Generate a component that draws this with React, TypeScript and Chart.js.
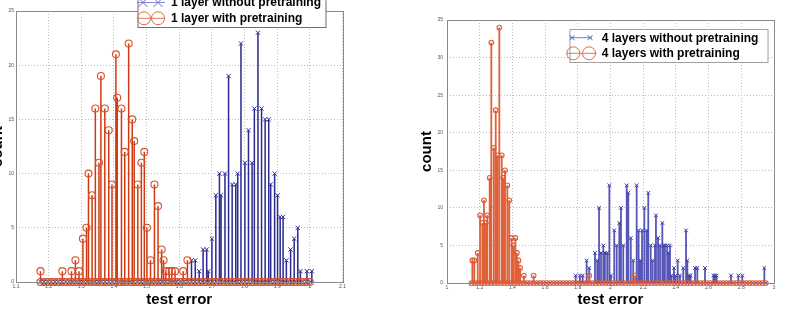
import React, { useEffect, useRef } from "react";
import { Chart, registerables } from "chart.js";
Chart.register(...registerables);

// ---------- DATA ----------
// Left panel: 1 layer
const leftLabels = ["1 layer without pretraining", "1 layer with pretraining"];
const leftBlueX = [1.6375, 1.649, 1.661, 1.673, 1.684, 1.689, 1.7, 1.712, 1.723, 1.728, 1.74, 1.751, 1.762, 1.773, 1.779, 1.789, 1.801, 1.812, 1.823, 1.83, 1.841, 1.852, 1.863, 1.874, 1.88, 1.892, 1.901, 1.909, 1.918, 1.928, 1.941, 1.952, 1.963, 1.971, 1.991, 2.006];
const leftBlueY = [2, 2, 1, 3, 3, 1, 4, 8, 10, 8, 10, 19, 9, 9, 10, 22, 11, 14, 11, 16, 23, 16, 15, 15, 9, 10, 8, 6, 6, 2, 3, 4, 5, 1, 1, 1];
const leftRedX = [1.175, 1.242, 1.27, 1.282, 1.293, 1.305, 1.316, 1.322, 1.333, 1.343, 1.354, 1.36, 1.372, 1.384, 1.394, 1.406, 1.41, 1.423, 1.433, 1.445, 1.456, 1.462, 1.473, 1.484, 1.493, 1.501, 1.512, 1.524, 1.535, 1.546, 1.552, 1.559, 1.569, 1.577, 1.587, 1.612, 1.625];
const leftRedY = [1, 1, 1, 2, 1, 4, 5, 10, 8, 16, 11, 19, 16, 14, 9, 21, 17, 16, 12, 22, 15, 13, 9, 11, 12, 5, 2, 9, 7, 3, 2, 1, 1, 1, 1, 1, 2];
const leftZeroX = [1.175, 1.186, 1.197, 1.208, 1.219, 1.23, 1.241, 1.252, 1.263, 1.274, 1.285, 1.296, 1.307, 1.318, 1.329, 1.34, 1.351, 1.362, 1.373, 1.384, 1.395, 1.406, 1.417, 1.428, 1.439, 1.45, 1.461, 1.472, 1.483, 1.494, 1.505, 1.516, 1.527, 1.538, 1.549, 1.56, 1.571, 1.582, 1.593, 1.604, 1.615, 1.626, 1.637, 1.648, 1.659, 1.67, 1.681, 1.692, 1.703, 1.714, 1.725, 1.736, 1.747, 1.758, 1.769, 1.78, 1.791, 1.802, 1.813, 1.824, 1.835, 1.846, 1.857, 1.868, 1.879, 1.89, 1.901, 1.912, 1.923, 1.934, 1.945, 1.956, 1.967, 1.978, 1.989, 2.0];
const leftXTicks = [1.1, 1.2, 1.3, 1.4, 1.5, 1.6, 1.7, 1.8, 1.9, 2, 2.1];
const leftYTicks = [0, 5, 10, 15, 20, 25];

// Right panel: 4 layers
const rightLabels = ["4 layers without pretraining", "4 layers with pretraining"];
const rightBlueX = [1.787, 1.813, 1.83, 1.854, 1.87, 1.905, 1.919, 1.93, 1.942, 1.956, 1.966, 1.98, 1.993, 2.003, 2.023, 2.038, 2.054, 2.064, 2.078, 2.099, 2.109, 2.124, 2.139, 2.16, 2.172, 2.182, 2.193, 2.207, 2.221, 2.231, 2.246, 2.258, 2.272, 2.278, 2.291, 2.303, 2.317, 2.325, 2.333, 2.347, 2.353, 2.364, 2.374, 2.388, 2.398, 2.411, 2.425, 2.445, 2.462, 2.47, 2.48, 2.49, 2.517, 2.531, 2.578, 2.629, 2.639, 2.649, 2.737, 2.782, 2.806, 2.941];
const rightBlueY = [1, 1, 1, 3, 2, 4, 3, 10, 4, 5, 4, 4, 13, 1, 7, 5, 8, 10, 5, 13, 12, 6, 3, 13, 7, 3, 7, 10, 7, 12, 5, 3, 5, 9, 6, 5, 8, 5, 5, 5, 4, 5, 1, 2, 1, 3, 1, 2, 7, 3, 1, 1, 2, 2, 2, 1, 1, 1, 1, 1, 1, 2];
const rightRedX = [1.155, 1.167, 1.188, 1.202, 1.216, 1.226, 1.237, 1.246, 1.261, 1.271, 1.286, 1.298, 1.308, 1.32, 1.335, 1.344, 1.355, 1.369, 1.381, 1.396, 1.406, 1.418, 1.427, 1.437, 1.447, 1.47, 1.53, 1.87, 2.15];
const rightRedY = [3, 3, 4, 9, 8, 11, 8, 9, 14, 32, 18, 23, 17, 34, 17, 14, 15, 13, 11, 6, 5, 6, 4, 3, 2, 1, 1, 1, 1];
const rightZeroX = [1.15, 1.17, 1.19, 1.21, 1.23, 1.25, 1.27, 1.29, 1.31, 1.33, 1.35, 1.37, 1.39, 1.41, 1.43, 1.45, 1.47, 1.49, 1.51, 1.53, 1.55, 1.57, 1.59, 1.61, 1.63, 1.65, 1.67, 1.69, 1.71, 1.73, 1.75, 1.77, 1.79, 1.81, 1.83, 1.85, 1.87, 1.89, 1.91, 1.93, 1.95, 1.97, 1.99, 2.01, 2.03, 2.05, 2.07, 2.09, 2.11, 2.13, 2.15, 2.17, 2.19, 2.21, 2.23, 2.25, 2.27, 2.29, 2.31, 2.33, 2.35, 2.37, 2.39, 2.41, 2.43, 2.45, 2.47, 2.49, 2.51, 2.53, 2.55, 2.57, 2.59, 2.61, 2.63, 2.65, 2.67, 2.69, 2.71, 2.73, 2.75, 2.77, 2.79, 2.81, 2.83, 2.85, 2.87, 2.89, 2.91, 2.93, 2.95];
const rightXTicks = [1, 1.2, 1.4, 1.6, 1.8, 2, 2.2, 2.4, 2.6, 2.8, 3];
const rightYTicks = [0, 5, 10, 15, 20, 25, 30, 35];

const xTitle = "test error";
const yTitle = "count";

// ---------- HELPERS ----------
const FONT = "'Liberation Sans', Arial, Helvetica, sans-serif";

function stemData(xs: number[], ys: number[]) {
  const out: any[] = [];
  xs.forEach((x, i) => {
    out.push({ x, y: 0 }, { x, y: ys[i] }, { x, y: null });
  });
  return out;
}
function markerData(xs: number[], ys: number[], zeros: number[]) {
  const pts: any[] = zeros.map((x) => ({ x, y: 0 }));
  xs.forEach((x, i) => pts.push({ x, y: ys[i] }));
  return pts;
}

function drawMarker(ctx: CanvasRenderingContext2D, kind: string, x: number, y: number, r: number) {
  ctx.beginPath();
  if (kind === "circle") {
    ctx.arc(x, y, r, 0, Math.PI * 2);
  } else {
    ctx.moveTo(x - r, y - r);
    ctx.lineTo(x + r, y + r);
    ctx.moveTo(x + r, y - r);
    ctx.lineTo(x - r, y + r);
  }
  ctx.stroke();
}

const boxLegend = {
  id: "boxLegend",
  afterDraw(chart: any, _args: any, opts: any) {
    const ctx: CanvasRenderingContext2D = chart.ctx;
    const { box, rows, textX } = opts;
    if (!box) return;
    ctx.save();
    ctx.fillStyle = "#ffffff";
    ctx.fillRect(box.x, box.y, box.w, box.h);
    ctx.strokeStyle = box.color;
    ctx.lineWidth = 1;
    ctx.strokeRect(box.x, box.y, box.w, box.h);
    rows.forEach((r: any) => {
      const ds = chart.data.datasets[r.datasetIndex];
      ctx.strokeStyle = r.lineColor;
      ctx.lineWidth = 1;
      ctx.beginPath();
      ctx.moveTo(r.x1, r.y);
      ctx.lineTo(r.x2, r.y);
      ctx.stroke();
      ctx.strokeStyle = r.markerColor;
      r.markers.forEach((mx: number) => drawMarker(ctx, r.kind, mx, r.y, r.size));
      ctx.fillStyle = "#000000";
      ctx.font = `bold 12px ${FONT}`;
      ctx.textBaseline = "middle";
      ctx.textAlign = "left";
      ctx.fillText(ds.label, textX, r.y + 0.5);
    });
    ctx.restore();
  },
};

const frame = {
  id: "frame",
  afterDatasetsDraw(chart: any) {
    const { ctx, chartArea } = chart;
    ctx.save();
    ctx.strokeStyle = "#8a8a8a";
    ctx.lineWidth = 1;
    ctx.strokeRect(Math.round(chartArea.left) + 0.5, Math.round(chartArea.top) + 0.5, Math.round(chartArea.right - chartArea.left), Math.round(chartArea.bottom - chartArea.top));
    ctx.restore();
  },
};

function makeConfig(p: any) {
  return {
    type: "scatter",
    data: {
      datasets: [
        {
          label: p.labels[0],
          type: "line",
          data: stemData(p.blueX, p.blueY),
          borderColor: p.blueStem,
          borderWidth: p.stemW,
          pointRadius: 0,
          spanGaps: false,
          clip: false,
          order: 4,
        },
        {
          label: p.labels[0],
          type: "scatter",
          data: markerData(p.blueX, p.blueY, p.zeroX),
          pointStyle: "crossRot",
          pointRadius: p.crossR,
          borderColor: p.blueMark,
          borderWidth: 1,
          clip: false,
          order: 3,
        },
        {
          label: p.labels[1],
          type: "line",
          data: stemData(p.redX, p.redY),
          borderColor: p.redStem,
          borderWidth: p.stemW,
          pointRadius: 0,
          spanGaps: false,
          clip: false,
          order: 2,
        },
        {
          label: p.labels[1],
          type: "scatter",
          data: markerData(p.redX, p.redY, p.zeroX),
          pointStyle: "circle",
          pointRadius: p.circleR,
          backgroundColor: "rgba(0,0,0,0)",
          borderColor: p.redMark,
          borderWidth: 1.1,
          clip: false,
          order: 1,
        },
      ],
    },
    options: {
      responsive: false,
      animation: false,
      events: [],
      layout: { padding: p.padding },
      scales: {
        x: {
          type: "linear",
          min: p.xTicks[0],
          max: p.xTicks[p.xTicks.length - 1],
          afterBuildTicks: (s: any) => {
            s.ticks = p.xTicks.map((v: number) => ({ value: v }));
          },
          afterFit: (s: any) => {
            s.height = p.xHeight;
          },
          ticks: {
            autoSkip: false,
            maxRotation: 0,
            padding: 2,
            color: "#555",
            font: { size: 5, family: FONT },
            callback: (v: any) => String(Math.round(v * 100) / 100),
          },
          grid: { color: "#bdbdbd", lineWidth: 1, drawTicks: false },
          border: { display: false, dash: [1, 2] },
          title: {
            display: true,
            text: xTitle,
            color: "#000",
            font: { size: 15, weight: "bold", family: FONT, lineHeight: 1 },
            padding: { top: 0, bottom: 2.5 },
          },
        },
        y: {
          type: "linear",
          min: 0,
          max: p.yTicks[p.yTicks.length - 1],
          afterBuildTicks: (s: any) => {
            s.ticks = p.yTicks.map((v: number) => ({ value: v }));
          },
          afterFit: (s: any) => {
            s.width = p.yWidth;
          },
          ticks: {
            padding: p.yTickPad,
            color: "#555",
            font: { size: 5, family: FONT },
          },
          grid: { color: "#bdbdbd", lineWidth: 1, drawTicks: false },
          border: { display: false, dash: [1, 2] },
          title: {
            display: true,
            text: yTitle,
            color: "#000",
            font: { size: 15, weight: "bold", family: FONT, lineHeight: 1 },
            padding: { top: p.yTitlePad, bottom: 0 },
          },
        },
      },
      plugins: {
        legend: { display: false },
        tooltip: { enabled: false },
        boxLegend: p.legend,
      },
    },
    plugins: [frame, boxLegend],
  } as any;
}

export default function App() {
  const leftRef = useRef<HTMLCanvasElement>(null);
  const rightRef = useRef<HTMLCanvasElement>(null);

  useEffect(() => {
    const left = new Chart(
      leftRef.current as HTMLCanvasElement,
      makeConfig({
        labels: leftLabels,
        blueX: leftBlueX,
        blueY: leftBlueY,
        redX: leftRedX,
        redY: leftRedY,
        zeroX: leftZeroX,
        xTicks: leftXTicks,
        yTicks: leftYTicks,
        stemW: 1.5,
        blueStem: "#2a2a90",
        redStem: "#d03a12",
        blueMark: "#30309c",
        redMark: "#d9502c",
        circleR: 3.5,
        crossR: 3,
        padding: { left: 0, right: 4, top: 11, bottom: 0 },
        xHeight: 28,
        yWidth: 28,
        yTickPad: 2,
        yTitlePad: 2.5,
        legend: {
          box: { x: 150, y: -5, w: 188, h: 32.5, color: "#6e6e6e" },
          textX: 183,
          rows: [
            { datasetIndex: 1, y: 2.5, x1: 149, x2: 177, markers: [155, 170], kind: "cross", size: 4.5, lineColor: "#8c8cd8", markerColor: "#6a6ad0" },
            { datasetIndex: 3, y: 18.3, x1: 149, x2: 177, markers: [156, 170], kind: "circle", size: 6.5, lineColor: "#e07a60", markerColor: "#e06a4a" },
          ],
        },
      })
    );
    const right = new Chart(
      rightRef.current as HTMLCanvasElement,
      makeConfig({
        labels: rightLabels,
        blueX: rightBlueX,
        blueY: rightBlueY,
        redX: rightRedX,
        redY: rightRedY,
        zeroX: rightZeroX,
        xTicks: rightXTicks,
        yTicks: rightYTicks,
        stemW: 1.8,
        blueStem: "#5656b8",
        redStem: "#e0603a",
        blueMark: "#3a3aa5",
        redMark: "#e05a35",
        circleR: 2.3,
        crossR: 2.6,
        padding: { left: 16, right: 6, top: 20, bottom: 0 },
        xHeight: 27,
        yWidth: 31,
        yTickPad: 4,
        yTitlePad: 3.5,
        legend: {
          box: { x: 170, y: 29.5, w: 198, h: 33, color: "#a0a0a0" },
          textX: 201.7,
          rows: [
            { datasetIndex: 1, y: 37.7, x1: 170, x2: 192, markers: [172, 190], kind: "cross", size: 2.5, lineColor: "#7a7acc", markerColor: "#5a5ac0" },
            { datasetIndex: 3, y: 53.3, x1: 166.7, x2: 196.7, markers: [173.3, 189], kind: "circle", size: 6.5, lineColor: "#e07a60", markerColor: "#e06a4a" },
          ],
        },
      })
    );
    return () => {
      left.destroy();
      right.destroy();
    };
  }, []);

  return (
    <div style={{ position: "absolute", left: 0, top: 0, width: 790, height: 310, overflow: "hidden", background: "#fff" }}>
      <canvas ref={leftRef} width={360} height={310} style={{ position: "absolute", left: -12, top: 0, display: "block" }} />
      <canvas ref={rightRef} width={380} height={310} style={{ position: "absolute", left: 400, top: 0, display: "block" }} />
    </div>
  );
}
